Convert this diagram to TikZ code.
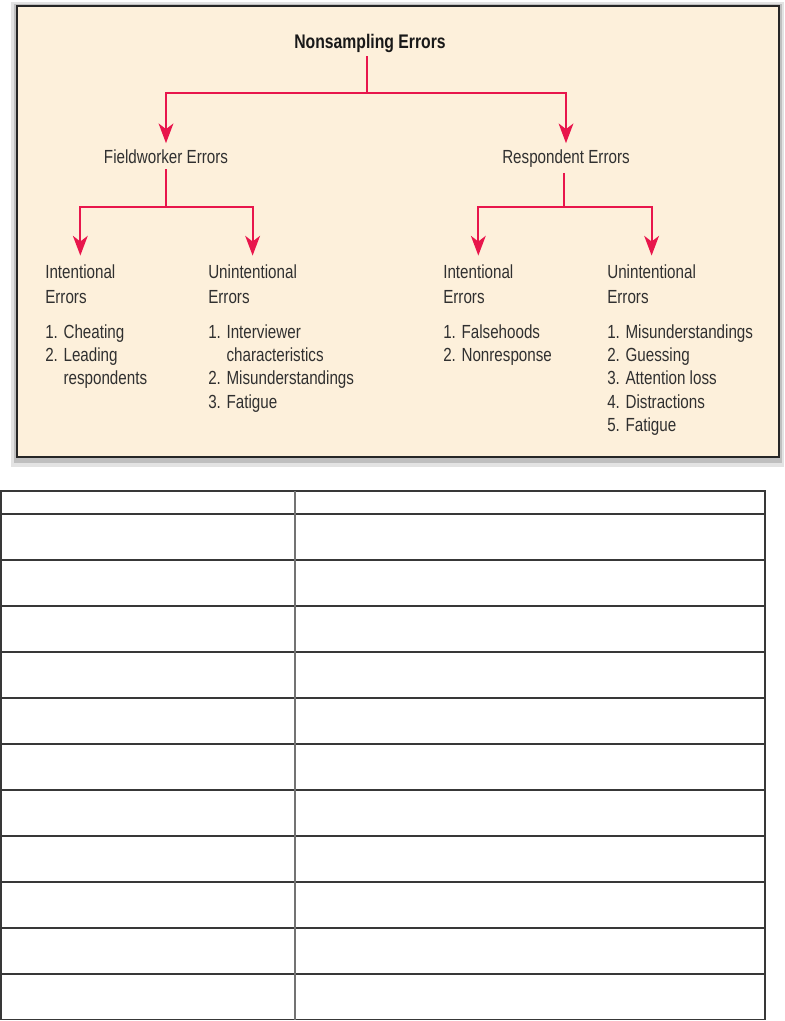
\documentclass[tikz,border=0pt]{standalone}
\usepackage{fontspec}
\setmainfont{Liberation Sans}[FakeStretch=0.8]
\usetikzlibrary{arrows.meta, positioning}
\definecolor{boxfill}{HTML}{FDF0DB}
\definecolor{errred}{HTML}{E8164C}
\definecolor{inkgray}{HTML}{303030}

\begin{document}
\begin{tikzpicture}[
        x=0.025cm, y=-0.025cm,
        rootlabel/.style={font=\fontsize{14}{17}\selectfont\bfseries, text=black!90, inner sep=0pt, outer sep=3pt},
        branch/.style={font=\fontsize{13.5}{16.6}\selectfont, text=inkgray, inner sep=0pt, outer sep=4.3pt},
        head/.style={font=\fontsize{13.5}{17.8}\selectfont, text=inkgray, align=left, inner sep=0pt, anchor=north west},
        items/.style={font=\fontsize{13.5}{16.6}\selectfont, text=inkgray, align=left, inner sep=0pt, anchor=north west},
        line/.style={draw=errred, line width=1.5pt},
        arrow/.style={line, -{Stealth[length=14pt, width=10.5pt, inset=4pt]}},
        grid/.style={draw=black!78, line width=1.1pt}
    ]
    \useasboundingbox (0,0) rectangle (784,1021);

    % --- FRAME ---
    \fill[gray!22] (11,2) rectangle (784,467);
    \fill[gray!50] (14,4) rectangle (782,463);
    \draw[black!85, line width=2pt, fill=boxfill] (17,6) rectangle (779,457);

    % --- TOP ---
    \node (nse) [rootlabel, anchor=base] at (370,48) {Nonsampling Errors};

    % --- BRANCHES ---
    \node (fwe) [branch, anchor=base] at (166,163) {Fieldworker Errors};
    \node (rse) [branch, anchor=base] at (566,163) {Respondent Errors};

    % --- FIELDWORKER ---
    \node (fwi) [head] at (45,264) {Intentional\\Errors};
    \node (fwil) [items] at (45,324) {1. Cheating\\2. Leading\\\phantom{2. }respondents};
    \node (fwu) [head] at (208,264) {Unintentional\\Errors};
    \node (fwul) [items] at (208,324) {1. Interviewer\\\phantom{1. }characteristics\\2. Misunderstandings\\3. Fatigue};

    % --- RESPONDENT ---
    \node (rsi) [head] at (443,264) {Intentional\\Errors};
    \node (rsil) [items] at (443,324) {1. Falsehoods\\2. Nonresponse};
    \node (rsu) [head] at (607,264) {Unintentional\\Errors};
    \node (rsul) [items] at (607,324) {1. Misunderstandings\\2. Guessing\\3. Attention loss\\4. Distractions\\5. Fatigue};

    % --- ARROWS ---
    \coordinate (j0) at (367,93);
    \coordinate (j1) at (166,207);
    \coordinate (j2) at (564,207);
    \draw [line] (nse.south -| j0) -- (j0);
    \draw [arrow] (j0) -| (fwe.north);
    \draw [arrow] (j0) -| (rse.north);
    \draw [line] (fwe.south) -- (j1);
    \draw [arrow, shorten >=6pt] (j1) -| (fwi.north);
    \draw [arrow, shorten >=6pt] (j1) -| (fwu.north);
    \draw [line] (rse.south -| j2) -- (j2);
    \draw [arrow, shorten >=6pt] (j2) -| (rsi.north);
    \draw [arrow, shorten >=6pt] (j2) -| (rsu.north);

    % --- TABLE ---
    \draw [grid] (0.8,491) rectangle (765,1019.5);
    \foreach \y in {514,560,606,652,698,744,790,836,882,928,974}
        \draw [grid] (0.8,\y) -- (765,\y);
    \draw [draw=black!55, line width=1.5pt] (295,491) -- (295,1019.5);

\end{tikzpicture}
\end{document}
